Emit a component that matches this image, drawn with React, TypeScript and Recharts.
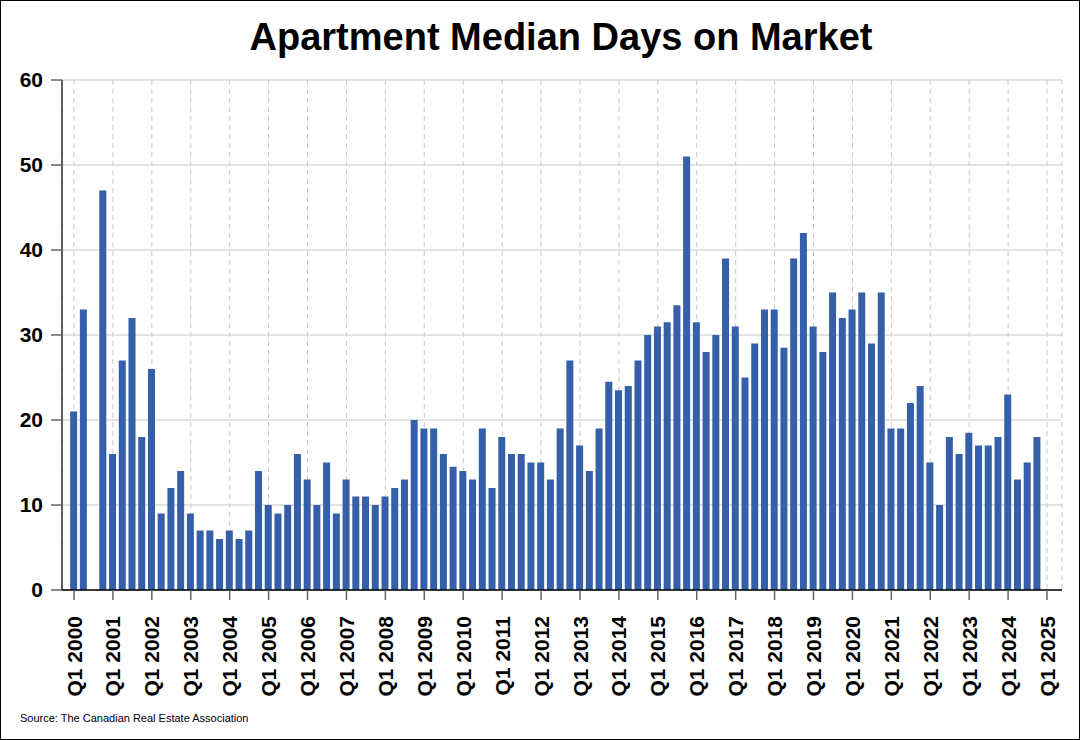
import React from "react";
import { BarChart, Bar, XAxis, YAxis, CartesianGrid } from "recharts";

const startYear = 2000;
const values: (number | null)[] = [
  21, 33, null, 47, 16, 27, 32, 18, 26, 9,
  12, 14, 9, 7, 7, 6, 7, 6, 7, 14,
  10, 9, 10, 16, 13, 10, 15, 9, 13, 11,
  11, 10, 11, 12, 13, 20, 19, 19, 16, 14.5,
  14, 13, 19, 12, 18, 16, 16, 15, 15, 13,
  19, 27, 17, 14, 19, 24.5, 23.5, 24, 27, 30,
  31, 31.5, 33.5, 51, 31.5, 28, 30, 39, 31, 25,
  29, 33, 33, 28.5, 39, 42, 31, 28, 35, 32,
  33, 35, 29, 35, 19, 19, 22, 24, 15, 10,
  18, 16, 18.5, 17, 17, 18, 23, 13, 15, 18,
];
const tickLabels: string[] = [
  "Q1 2000", "Q1 2001", "Q1 2002", "Q1 2003", "Q1 2004", "Q1 2005", "Q1 2006",
  "Q1 2007", "Q1 2008", "Q1 2009", "Q1 2010", "Q1 2011", "Q1 2012", "Q1 2013",
  "Q1 2014", "Q1 2015", "Q1 2016", "Q1 2017", "Q1 2018", "Q1 2019", "Q1 2020",
  "Q1 2021", "Q1 2022", "Q1 2023", "Q1 2024", "Q1 2025",
];
const yTicks: number[] = [0, 10, 20, 30, 40, 50, 60];

const data = values.map((v, i) => ({
  i,
  quarter: `Q${(i % 4) + 1} ${startYear + Math.floor(i / 4)}`,
  value: v,
}));
const xTicks = tickLabels.map((_, k) => k * 4);

const FONT = "'Liberation Sans', Arial, Helvetica, sans-serif";

const XTick = (props: any) => {
  const { x, y, payload } = props;
  const label = tickLabels[Math.round(payload.value / 4)];
  return (
    <g transform={`translate(${x},${y})`}>
      <text
        transform="rotate(-90)"
        textAnchor="end"
        dy="0.36em"
        fontSize={21}
        fontWeight="bold"
        fontFamily={FONT}
        fill="#000"
      >
        {label}
      </text>
    </g>
  );
};

export default function App() {
  return (
    <div style={{ position: "absolute", left: 0, top: 0, width: 1080, height: 740, background: "#fff" }}>
      <BarChart
        width={1080}
        height={740}
        data={data}
        margin={{ top: 80, right: 18, bottom: 50, left: 12 }}
      >
        <CartesianGrid vertical={false} stroke="#c8c8c8" strokeWidth={1.2} />
        <CartesianGrid horizontal={false} stroke="#c8c8c8" strokeDasharray="5 4" />
        <XAxis
          type="number"
          dataKey="i"
          domain={[-1.233, 101.54]}
          allowDataOverflow
          ticks={xTicks}
          interval={0}
          height={100}
          tickSize={10}
          tickMargin={16}
          tick={<XTick />}
          axisLine={{ stroke: "#000", strokeWidth: 1.5 }}
          tickLine={{ stroke: "#666", strokeWidth: 1.5 }}
        />
        <YAxis
          type="number"
          domain={[0, 60]}
          ticks={yTicks}
          interval={0}
          width={50}
          tickSize={11}
          tickMargin={8}
          tick={{ fontSize: 21, fontWeight: "bold", fontFamily: FONT, fill: "#000" }}
          axisLine={{ stroke: "#000", strokeWidth: 1.2 }}
          tickLine={{ stroke: "#666", strokeWidth: 1.5 }}
        />
        <Bar dataKey="value" fill="#355FA8" barSize={7} isAnimationActive={false} />
      </BarChart>
      <svg
        width={1080}
        height={740}
        style={{ position: "absolute", left: 0, top: 0, pointerEvents: "none" }}
      >
        <rect x={0.5} y={0.5} width={1079} height={739} fill="none" stroke="#000" strokeWidth={1} />
        <text x={561} y={50} textAnchor="middle" fontSize={38} fontWeight="bold" fontFamily={FONT} fill="#000">
          Apartment Median Days on Market
        </text>
        <text x={20} y={722} fontSize={11} fontFamily={FONT} fill="#000">
          Source: The Canadian Real Estate Association
        </text>
      </svg>
    </div>
  );
}
